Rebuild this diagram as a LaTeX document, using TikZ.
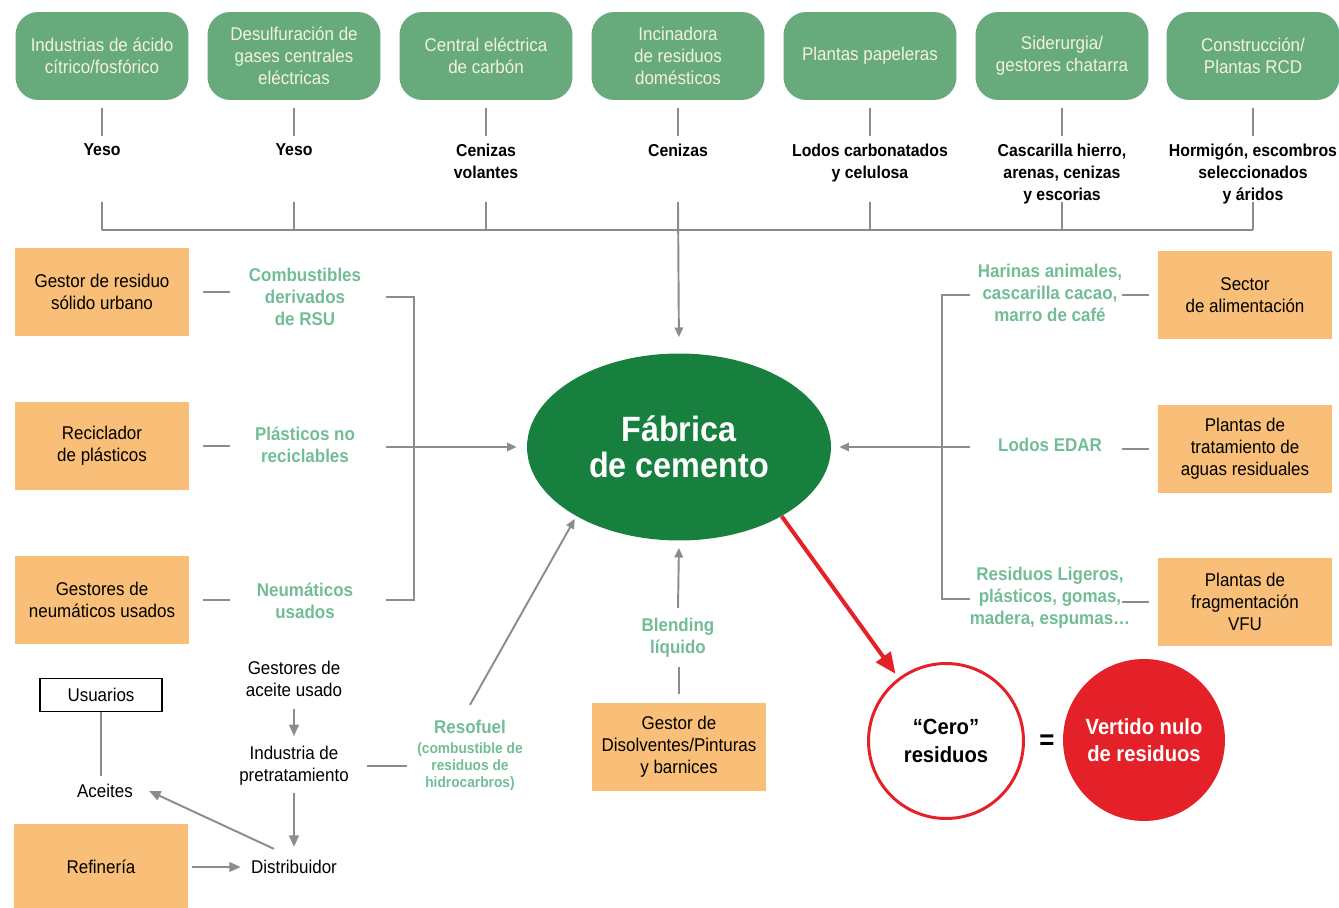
\documentclass[tikz,border=0pt]{standalone}
\usepackage{fontspec}
\setmainfont{Liberation Sans}[FakeStretch=0.92]
\usepackage{tikz}
\usetikzlibrary{arrows.meta,positioning,shapes.geometric}
\definecolor{srcgreen}{HTML}{67AA7C}
\definecolor{boxcream}{HTML}{F4F2DE}
\definecolor{plantgreen}{HTML}{17803F}
\definecolor{wasteorange}{HTML}{F9BE78}
\definecolor{fuelgreen}{HTML}{72BC96}
\definecolor{linegray}{HTML}{8C8C8C}
\definecolor{zerored}{HTML}{E42128}

\begin{document}
\begin{tikzpicture}[x=0.02cm, y=-0.02cm, >={Triangle[length=5.5pt,width=4.8pt]},
  every node/.style={font=\fontsize{10.5}{12.5}\selectfont, inner sep=0pt, align=center},
  srcbox/.style={fill=srcgreen, rounded corners=13pt, minimum width=3.46cm, minimum height=1.76cm, text=boxcream},
  wastebox/.style={fill=wasteorange, minimum width=3.48cm, minimum height=1.77cm},
  product/.style={font=\bfseries\fontsize{9.8}{12.5}\selectfont},
  fuel/.style={text=fuelgreen, font=\bfseries\fontsize{10.5}{12.5}\selectfont},
  feed/.style={draw=linegray, line width=1.1pt},
  oilflow/.style={feed, -{Triangle[length=6.5pt,width=5.5pt]}},
  redflow/.style={draw=zerored, line width=2.3pt, -{Triangle[length=12pt,width=10pt]}}]
  \useasboundingbox (0,0) rectangle (1339,908);

  % sources on top
  \node[srcbox] (src1) at (102,56) {Industrias de ácido\\cítrico/fosfórico};
  \node[srcbox] (src2) at (294,56) {Desulfuración de\\gases centrales\\eléctricas};
  \node[srcbox] (src3) at (486,56) {Central eléctrica\\de carbón};
  \node[srcbox] (src4) at (678,56) {Incinadora\\de residuos\\domésticos};
  \node[srcbox] (src5) at (870,56) {Plantas papeleras};
  \node[srcbox] (src6) at (1062,56) {Siderurgia/\\gestores chatarra};
  \node[srcbox] (src7) at (1253,56) {Construcción/\\Plantas RCD};

  \node[product, below=0.86cm of src1] (lab1) {Yeso};
  \node[product, below=0.86cm of src2] (lab2) {Yeso};
  \node[product, below=0.86cm of src3] (lab3) {Cenizas\\volantes};
  \node[product, below=0.86cm of src4] (lab4) {Cenizas};
  \node[product, below=0.86cm of src5] (lab5) {Lodos carbonatados\\y celulosa};
  \node[product, below=0.86cm of src6] (lab6) {Cascarilla hierro,\\arenas, cenizas\\y escorias};
  \node[product, below=0.86cm of src7] (lab7) {Hormigón, escombros\\seleccionados\\y áridos};

  % cement plant
  \node[ellipse, fill=plantgreen, minimum width=6.08cm, minimum height=3.74cm, text=white,
        font=\bfseries\fontsize{20}{20.4}\selectfont] (plant) at (679,447) {Fábrica\\de cemento};

  % left suppliers
  \node[wastebox] (gestRSU) at (102,292) {Gestor de residuo\\sólido urbano};
  \node[wastebox] (recPlast) at (102,446) {Reciclador\\de plásticos};
  \node[wastebox] (gestNeum) at (102,600) {Gestores de\\neumáticos usados};
  \node[fuel] (fuelRSU) at (305,297) {Combustibles\\derivados\\de RSU};
  \node[fuel] (fuelPlast) at (305,445) {Plásticos no\\reciclables};
  \node[fuel] (fuelNeum) at (305,601) {Neumáticos\\usados};

  % right suppliers
  \node[wastebox] (sector) at (1245,295) {Sector\\de alimentación};
  \node[wastebox] (aguas) at (1245,449) {Plantas de\\tratamiento de\\aguas residuales};
  \node[wastebox] (vfu) at (1245,602) {Plantas de\\fragmentación\\VFU};
  \node[fuel] (harinas) at (1050,293) {Harinas animales,\\cascarilla cacao,\\marro de café};
  \node[fuel] (lodos) at (1050,445) {Lodos EDAR};
  \node[fuel] (ligeros) at (1050,598) {Residuos Ligeros,\\plásticos, gomas,\\madera, espumas…};

  % oil chain
  \node[draw=black, line width=0.9pt, minimum width=2.44cm, minimum height=0.66cm] (usuarios) at (101,695) {Usuarios};
  \node (aceites) at (105,791) {Aceites};
  \node[wastebox, minimum height=1.72cm] (refineria) at (101,867) {Refinería};
  \node (gestAceite) at (294,679) {Gestores de\\aceite usado};
  \node (industria) at (294,766) {Industria de\\pretratamiento};
  \node (distrib) at (294,867) {Distribuidor};
  \node[fuel] (resofuel) at (470,727) {Resofuel};
  \node[text=fuelgreen, font=\bfseries\fontsize{8.5}{9.6}\selectfont, below=0.16cm of resofuel] (resoNote) {(combustible de\\residuos de\\hidrocarbros)};

  % solvents
  \node[wastebox] (gestDis) at (679,747) {Gestor de\\Disolventes/Pinturas\\y barnices};
  \node[fuel] (blend) at (678,638) {Blending\\líquido};

  % zero waste
  \node[circle, draw=zerored, line width=1.7pt, fill=white, minimum size=3.1cm,
        font=\bfseries\fontsize{12.5}{15.5}\selectfont] (zero) at (946,741) {“Cero”\\residuos};
  \node[font=\bfseries\fontsize{16}{18}\selectfont] (eq) at (1047,742) {=};
  \node[circle, fill=zerored, minimum size=3.24cm, text=white,
        font=\bfseries\fontsize{12.5}{15.5}\selectfont] (nulo) at (1144,740) {Vertido nulo\\de residuos};

  % top bus
  \coordinate (busW) at (102,230);
  \coordinate (busE) at (1253,230);
  \coordinate (dropTop) at (0,202);
  \draw[feed] (busW) -- (busE);
  \foreach \n in {1,...,7}
    \draw[feed] ([yshift=-0.16cm]src\n.south) -- ([yshift=-0.72cm]src\n.south);
  \foreach \n in {1,2,3,5,6,7}
    \draw[feed] (src\n.south |- dropTop) -- (src\n.south |- busW);
  \draw[feed, ->, shorten >=0.32cm] (src4.south |- dropTop) -- (plant.north);

  % left bracket
  \foreach \b in {gestRSU, recPlast, gestNeum}
    \draw[feed] ([xshift=0.28cm]\b.east) -- ++(27,0);
  \coordinate (brLtop) at (386,297);
  \coordinate (brLmid) at (386,447);
  \coordinate (brLbot) at (386,600);
  \draw[feed] (brLtop) -- ++(28,0) |- (brLbot);
  \draw[feed, ->, shorten >=0.2cm] (brLmid) -- (plant.west);

  % right bracket
  \foreach \b in {sector, aguas, vfu}
    \draw[feed] ([xshift=-0.18cm]\b.west) -- ++(-27,0);
  \coordinate (brRtop) at (970,295);
  \coordinate (brRmid) at (970,447);
  \coordinate (brRbot) at (970,599);
  \draw[feed] (brRtop) -- ++(-28,0) |- (brRbot);
  \draw[feed, ->, shorten >=0.16cm] (brRmid) -- (plant.east);

  % oil chain connectors
  \draw[feed] (usuarios.south) -- ([yshift=0.16cm]usuarios.south |- aceites.north);
  \draw[oilflow] ([yshift=-0.24cm]gestAceite.south) -- ([yshift=0.2cm]industria.north);
  \draw[oilflow] ([yshift=-0.14cm]industria.south) -- ([yshift=0.26cm]distrib.north);
  \draw[oilflow] ([shift={(-0.4cm,0.22cm)}]distrib.north) -- ([xshift=0.32cm]aceites.east);
  \draw[oilflow] ([xshift=0.08cm]refineria.east) -- ([xshift=-0.2cm]distrib.west);
  \draw[feed] ([xshift=0.36cm]industria.east) -- ++(40,0);
  \draw[feed, ->, shorten >=0.06cm] ([yshift=0.3cm]resofuel.north) -- (plant.214);

  % solvents connectors
  \draw[feed, ->, shorten >=0.14cm] ([yshift=0.2cm]blend.north) -- (plant.south);
  \draw[feed] ([yshift=0.16cm]gestDis.north) -- ++(0,-27);

  % zero waste
  \draw[redflow, shorten >=0.1cm] (plant.-34) -- (zero.127);
\end{tikzpicture}
\end{document}
